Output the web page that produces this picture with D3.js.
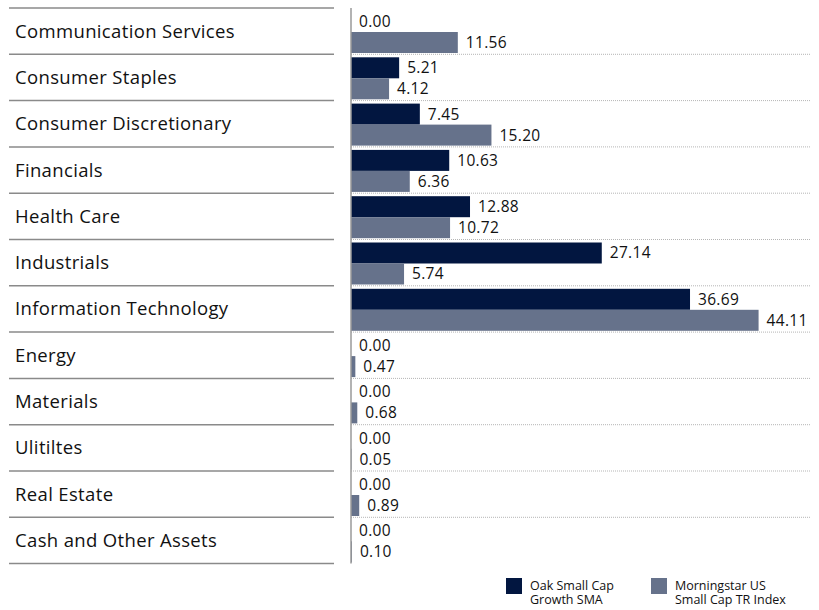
<!DOCTYPE html>
<html>
<head>
    <meta charset="utf-8">
    <title>Sector Weights</title>
    <script src="https://d3js.org/d3.v7.min.js"></script>
    <style>
        body { margin: 0; background: #fff; }
        text { font-family: "Open Sans", sans-serif; fill: #111; font-weight: 500; }
    </style>
</head>
<body>
    <div id="chart"></div>
    <script>
        // sectors, top to bottom
        var sectors = ["Communication Services", "Consumer Staples", "Consumer Discretionary",
            "Financials", "Health Care", "Industrials", "Information Technology", "Energy",
            "Materials", "Ulitiltes", "Real Estate", "Cash and Other Assets"];
        var oakValues = [0.00, 5.21, 7.45, 10.63, 12.88, 27.14, 36.69, 0.00, 0.00, 0.00, 0.00, 0.00];
        var indexValues = [11.56, 4.12, 15.20, 6.36, 10.72, 5.74, 44.11, 0.47, 0.68, 0.05, 0.89, 0.10];
        var seriesNames = [["Oak Small Cap", "Growth SMA"], ["Morningstar US", "Small Cap TR Index"]];
        var colors = ["#021640", "#66728b"];

        var width = 819, height = 610;
        var topY = 8, rowH = 46.3;

        var svg = d3.select("#chart").append("svg")
            .attr("width", width)
            .attr("height", height);

        var y = d3.scaleBand()
            .domain(sectors)
            .range([topY, topY + rowH * sectors.length]);

        var x = d3.scaleLinear()
            .domain([0, 50])
            .range([351, 813]);

        // left separators (solid)
        svg.selectAll(".sep")
            .data(d3.range(sectors.length + 1))
            .enter().append("line")
            .attr("x1", 9).attr("x2", 334)
            .attr("y1", function(i) { return topY + i * rowH; })
            .attr("y2", function(i) { return topY + i * rowH; })
            .attr("stroke", "#8a8a8a")
            .attr("stroke-width", 1.5);

        // category labels
        svg.selectAll(".cat")
            .data(sectors)
            .enter().append("text")
            .attr("x", 15)
            .attr("y", function(d) { return y(d) + y.bandwidth() / 2; })
            .attr("dy", "0.35em")
            .style("font-size", "18.5px")
            .style("letter-spacing", "0.35px")
            .text(function(d) { return d; });

        // dotted separators between rows on the right
        svg.selectAll(".dot")
            .data(d3.range(1, sectors.length))
            .enter().append("line")
            .attr("x1", x(0)).attr("x2", 811)
            .attr("y1", function(i) { return topY + i * rowH; })
            .attr("y2", function(i) { return topY + i * rowH; })
            .attr("stroke", "#b5b5b5")
            .attr("stroke-dasharray", "1,1");

        var barH = 21;
        var series = [oakValues, indexValues];

        series.forEach(function(vals, s) {
            var rows = sectors.map(function(d, i) { return { sector: d, value: vals[i] }; });
            var barY = function(d) { return y(d.sector) + 3 + s * barH; };

            svg.selectAll(".bar" + s)
                .data(rows)
                .enter().append("rect")
                .attr("x", x(0))
                .attr("y", barY)
                .attr("width", function(d) { return x(d.value) - x(0); })
                .attr("height", barH)
                .attr("fill", colors[s]);

            svg.selectAll(".lbl" + s)
                .data(rows)
                .enter().append("text")
                .attr("x", function(d) { return x(d.value) + 8; })
                .attr("y", function(d) { return barY(d) + barH / 2; })
                .attr("dy", "0.35em")
                .style("font-size", "15.5px")
                .style("letter-spacing", "0.3px")
                .text(function(d) { return d.value.toFixed(2); });
        });

        // axis line
        svg.append("line")
            .attr("x1", x(0)).attr("x2", x(0))
            .attr("y1", topY).attr("y2", topY + rowH * sectors.length)
            .attr("stroke", "#9a9a9a")
            .attr("stroke-width", 1.5);

        // legend
        var legend = svg.selectAll(".legend")
            .data(seriesNames)
            .enter().append("g")
            .attr("transform", function(d, i) { return "translate(" + (506 + i * 145) + ",578)"; });

        legend.append("rect")
            .attr("width", 16).attr("height", 16)
            .attr("fill", function(d, i) { return colors[i]; });

        legend.append("text")
            .attr("x", 24)
            .attr("y", 12)
            .style("font-size", "12.5px")
            .selectAll("tspan")
            .data(function(d) { return d; })
            .enter().append("tspan")
            .attr("x", 24)
            .attr("dy", function(d, i) { return i === 0 ? 0 : 14; })
            .text(function(d) { return d; });
    </script>
</body>
</html>
